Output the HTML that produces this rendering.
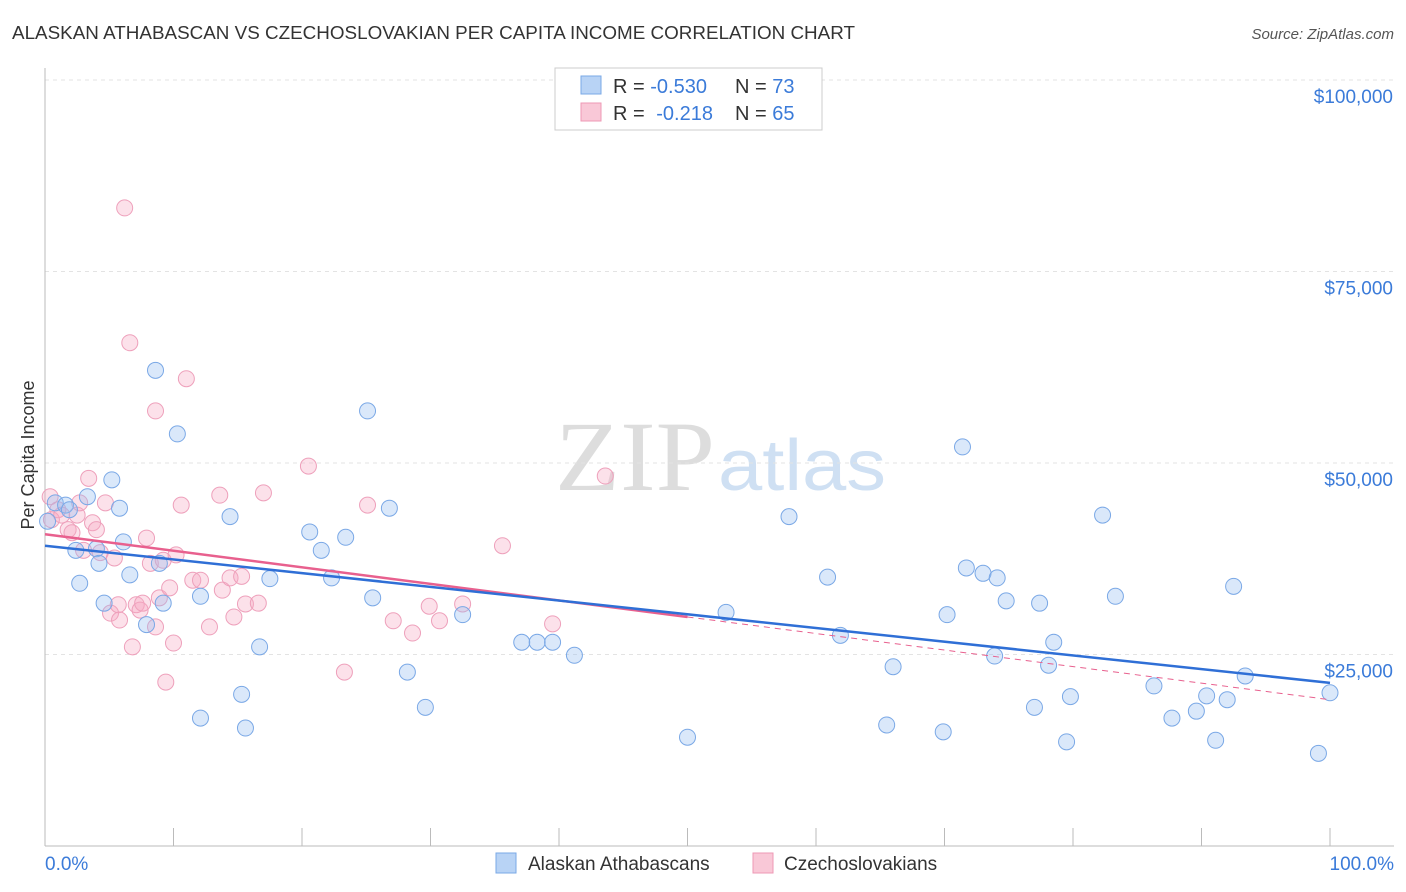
<!DOCTYPE html>
<html><head><meta charset="utf-8">
<style>
body{margin:0;background:#fff;font-family:"Liberation Sans",sans-serif;}
#wrap{position:relative;width:1406px;height:892px;overflow:hidden;}
</style></head>
<body>
<div id="wrap">
<svg id="svg" width="1406" height="892" xmlns="http://www.w3.org/2000/svg">
<text x="12" y="39" font-size="18" fill="#333" textLength="843" lengthAdjust="spacingAndGlyphs">ALASKAN ATHABASCAN VS CZECHOSLOVAKIAN PER CAPITA INCOME CORRELATION CHART</text>
<text x="1394" y="39" font-size="15" fill="#555" font-style="italic" text-anchor="end">Source: ZipAtlas.com</text>
<text x="555" y="490" font-size="100" fill="#ddd" textLength="160" lengthAdjust="spacingAndGlyphs" font-family="Liberation Serif,serif">ZIP</text>
<text x="718" y="490" font-size="72" fill="#cfe0f3" textLength="168" lengthAdjust="spacingAndGlyphs">atlas</text>
<text transform="translate(34,455) rotate(-90)" font-size="18" fill="#333" text-anchor="middle">Per Capita Income</text>
<g id="grid"></g><g id="pts"></g><g id="lines"></g>
<g>
<rect x="555" y="68" width="267" height="62" fill="#fff" stroke="#ccc"/>
<rect x="581" y="76" width="20" height="18" fill="#b8d3f5" stroke="#7aa8e6"/>
<rect x="581" y="103" width="20" height="18" fill="#f9c8d7" stroke="#ee98b4"/>
<text x="613" y="93" font-size="20" fill="#333">R = <tspan fill="#3b7bd9">-0.530</tspan></text>
<text x="735" y="93" font-size="20" fill="#333">N = <tspan fill="#3b7bd9">73</tspan></text>
<text x="613" y="120" font-size="20" fill="#333">R = <tspan fill="#3b7bd9" dx="6">-0.218</tspan></text>
<text x="735" y="120" font-size="20" fill="#333">N = <tspan fill="#3b7bd9">65</tspan></text>
</g>
<text x="45" y="870" font-size="19" fill="#3b7bd9">0.0%</text>
<text x="1394" y="870" font-size="19" fill="#3b7bd9" text-anchor="end">100.0%</text>
<g>
<rect x="496" y="853" width="20" height="20" fill="#b8d3f5" stroke="#7aa8e6"/>
<text x="528" y="870" font-size="19" fill="#333">Alaskan Athabascans</text>
<rect x="753" y="853" width="20" height="20" fill="#f9c8d7" stroke="#ee98b4"/>
<text x="784" y="870" font-size="19" fill="#333">Czechoslovakians</text>
</g>
</svg>
</div>
<script>
const yTicks=[25000,50000,75000,100000];
const yTickLabels=["$25,000","$50,000","$75,000","$100,000"];
const xTicks=[0,10,20,30,40,50,60,70,80,90,100];
const blueX=[0.2,0.8,1.6,1.9,2.4,2.7,3.3,4.0,4.2,4.6,5.2,5.8,6.1,6.6,7.9,8.6,8.9,9.2,10.3,12.1,12.1,14.4,15.3,15.6,16.7,17.5,20.6,21.5,22.3,23.4,25.1,25.5,26.8,28.2,29.6,32.5,37.1,38.3,39.5,41.2,50.0,53.0,57.9,60.9,61.9,65.5,66.0,69.9,70.2,71.4,71.7,73.0,74.1,73.9,74.8,77.0,77.4,78.1,78.5,79.5,79.8,82.3,83.3,86.3,87.7,89.6,90.4,91.1,92.0,92.5,93.4,99.1,100];
const blueY=[42.4,44.8,44.5,43.9,38.6,34.3,45.6,38.8,36.9,31.7,47.8,44.1,39.7,35.4,28.9,62.1,36.9,31.7,53.8,32.6,16.7,43.0,19.8,15.4,26.0,34.9,41.0,38.6,35.0,40.3,56.8,32.4,44.1,22.7,18.1,30.2,26.6,26.6,26.6,24.9,14.2,30.5,43.0,35.1,27.5,15.8,23.4,14.9,30.2,52.1,36.3,35.6,35.0,24.8,32.0,18.1,31.7,23.6,26.6,13.6,19.5,43.2,32.6,20.9,16.7,17.6,19.6,13.8,19.1,33.9,22.2,12.1,20.0];
const pinkX=[0.4,0.5,1.0,1.3,1.8,2.1,2.5,2.7,3.0,3.4,3.7,4.0,4.3,4.7,5.1,5.4,5.7,5.8,6.2,6.6,6.8,7.1,7.4,7.6,7.9,8.2,8.6,8.6,8.9,9.2,9.4,9.7,10.0,10.2,10.6,11.0,11.5,12.1,12.8,13.6,13.8,14.4,14.7,15.3,15.6,16.6,17.0,20.5,23.3,25.1,27.1,28.6,29.9,30.7,32.5,35.6,39.5,43.6];
const pinkY=[45.6,42.6,43.9,43.2,41.3,40.9,43.2,44.8,38.6,48.0,42.2,41.3,38.3,44.8,30.4,37.6,31.5,29.5,83.3,65.7,26.0,31.5,30.8,31.7,40.2,36.9,28.6,56.8,32.4,37.3,21.4,33.7,26.5,38.0,44.5,61.0,34.7,34.7,28.6,45.8,33.4,35.0,29.9,35.2,31.6,31.7,46.1,49.6,22.7,44.5,29.4,27.8,31.3,29.4,31.6,39.2,29.0,48.3];
const blueTrend=[39.2,21.3];
const pinkTrend=[40.7,19.1];
const NS="http://www.w3.org/2000/svg";
const X=v=>45+v*12.85;
const Y=v=>846-v*7.66;
function mk(t,a,p){const e=document.createElementNS(NS,t);for(const k in a)e.setAttribute(k,a[k]);p.appendChild(e);return e;}
const grid=document.getElementById('grid');
mk('line',{x1:45,y1:80,x2:1394,y2:80,stroke:'#e3e3e3','stroke-dasharray':'4,4'},grid);
yTicks.forEach((t,i)=>{const y=Y(t/1000);
const l=mk('line',{x1:45,y1:y,x2:1394,y2:y,stroke:'#e3e3e3','stroke-dasharray':'4,4'},grid);


const tx=mk('text',{x:1393,y:y+23,'font-size':19,fill:'#3b7bd9','text-anchor':'end'},grid);tx.textContent=yTickLabels[i];

});
mk('line',{x1:45,y1:68,x2:45,y2:846,stroke:'#bbb'},grid);
mk('line',{x1:45,y1:846,x2:1394,y2:846,stroke:'#bbb'},grid);
xTicks.forEach(t=>{const l=mk('line',{x1:X(t),y1:828,x2:X(t),y2:846,stroke:'#bbb'},grid);

});
const pts=document.getElementById('pts');
pinkX.forEach((x,i)=>{const c=mk('circle',{cx:X(x),cy:Y(pinkY[i]),r:8,fill:'rgba(246,170,196,0.35)',stroke:'#eea0bb','stroke-width':1},pts);

});
blueX.forEach((x,i)=>{const c=mk('circle',{cx:X(x),cy:Y(blueY[i]),r:8,fill:'rgba(150,190,240,0.35)',stroke:'#7aa8e6','stroke-width':1},pts);

});
const ln=document.getElementById('lines');
const pm=pinkTrend[0]+(pinkTrend[1]-pinkTrend[0])*0.5;
let a=mk('line',{x1:X(0),y1:Y(pinkTrend[0]),x2:X(50),y2:Y(pm),stroke:'#e8608e','stroke-width':2.5},ln);


a=mk('line',{x1:X(50),y1:Y(pm),x2:X(100),y2:Y(pinkTrend[1]),stroke:'#e8608e','stroke-width':1,'stroke-dasharray':'6,5'},ln);


a=mk('line',{x1:X(0),y1:Y(blueTrend[0]),x2:X(100),y2:Y(blueTrend[1]),stroke:'#2f6fd6','stroke-width':2.5},ln);


</script>
</body></html>
